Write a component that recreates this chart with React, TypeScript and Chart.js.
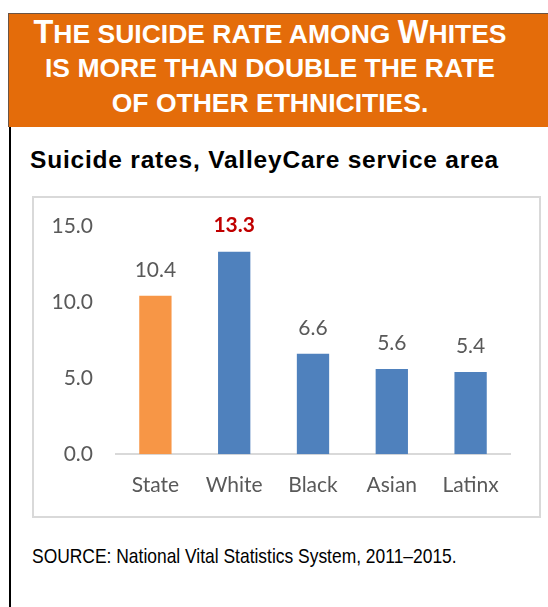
import React, { useEffect, useRef } from "react";
import { Chart, registerables } from "chart.js";

Chart.register(...registerables);

const categories = ["State", "White", "Black", "Asian", "Latinx"];
const rates = [10.4, 13.3, 6.6, 5.6, 5.4];
const barColors = ["#F79646", "#4F81BD", "#4F81BD", "#4F81BD", "#4F81BD"];
const yTicks = [0, 5, 10, 15];
const highlightIndex = 1;

const chartTitle = "Suicide rates, ValleyCare service area";
const sourceNote = "SOURCE: National Vital Statistics System, 2011\u20132015.";

// header lines: [text, isBigCapital]
const headerLines: [string, boolean][][] = [
  [["T", true], ["HE SUICIDE RATE AMONG ", false], ["W", true], ["HITES", false]],
  [["IS MORE THAN DOUBLE THE RATE", false]],
  [["OF OTHER ETHNICITIES.", false]],
];
const headerBaselineTops = [15.5, 49.5, 84.5];

const TICK_FONT = "Lato, 'Open Sans', sans-serif";

const valueLabels = {
  id: "valueLabels",
  afterDatasetsDraw(chart: any) {
    const ctx = chart.ctx;
    const meta = chart.getDatasetMeta(0);
    meta.data.forEach((bar: any, i: number) => {
      const v = rates[i];
      ctx.save();
      ctx.font = (i === highlightIndex ? "bold " : "") + "21px " + TICK_FONT;
      ctx.fillStyle = i === highlightIndex ? "#C00000" : "#595959";
      ctx.textAlign = "center";
      ctx.textBaseline = "middle";
      ctx.fillText(v.toFixed(1), bar.x, bar.y - 26);
      ctx.restore();
    });
  },
};

function BarChart() {
  const ref = useRef<HTMLCanvasElement | null>(null);
  useEffect(() => {
    if (!ref.current) return;
    const chart = new Chart(ref.current, {
      type: "bar",
      data: {
        labels: categories,
        datasets: [
          {
            data: rates,
            backgroundColor: barColors,
            borderWidth: 0,
            barPercentage: 0.41,
            categoryPercentage: 1,
          },
        ],
      },
      options: {
        animation: false,
        responsive: true,
        maintainAspectRatio: false,
        layout: { padding: { top: 27.8, right: 29, bottom: 0, left: 0 } },
        plugins: { legend: { display: false }, tooltip: { enabled: false }, title: { display: false } },
        scales: {
          x: {
            grid: { display: false, drawTicks: false },
            border: { display: true, color: "#D9D9D9", width: 2 },
            ticks: {
              font: { family: TICK_FONT, size: 21 },
              color: "#595959",
              padding: 18.6,
              maxRotation: 0,
              autoSkip: false,
            },
            afterFit: (s: any) => {
              s.height = 61.7;
              s.paddingLeft = 0;
              s.paddingRight = 0;
            },
          },
          y: {
            min: 0,
            max: 15,
            grid: { display: false, drawTicks: false },
            border: { display: false },
            ticks: {
              font: { family: TICK_FONT, size: 21 },
              color: "#595959",
              padding: 23,
              callback: (v: any) => Number(v).toFixed(1),
            },
            afterBuildTicks: (s: any) => {
              s.ticks = yTicks.map((v) => ({ value: v }));
            },
            afterFit: (s: any) => {
              s.width = 82;
              s.paddingTop = 0;
              s.paddingBottom = 0;
            },
          },
        },
      },
      plugins: [valueLabels],
    } as any);
    return () => chart.destroy();
  }, []);
  return <canvas ref={ref} />;
}

export default function App() {
  return (
    <div
      style={{
        position: "absolute",
        left: 0,
        top: 0,
        width: 548,
        height: 607,
        background: "#fff",
        overflow: "hidden",
      }}
    >
      {/* orange header */}
      <div
        style={{
          position: "absolute",
          left: 8,
          top: 13,
          width: 540,
          height: 114,
          background: "#E46C0A",
          borderTop: "1px solid #6b5444",
          borderLeft: "1px solid #6b5444",
          boxSizing: "border-box",
        }}
      />
      {headerLines.map((line, li) => (
        <div
          key={li}
          style={{
            position: "absolute",
            left: 9,
            width: 522,
            top: headerBaselineTops[li],
            textAlign: "center",
            color: "#fff",
            fontFamily: "'Liberation Sans', Arial, sans-serif",
            fontWeight: "bold",
            fontSize: 32.5,
            lineHeight: "32.5px",
            whiteSpace: "nowrap",
          }}
        >
          {line.map(([t, big], si) => (
            <span key={si} style={{ fontSize: big ? 32.5 : 26.5, lineHeight: 1 }}>
              {t}
            </span>
          ))}
        </div>
      ))}
      {/* left rule */}
      <div style={{ position: "absolute", left: 9, top: 127, width: 2, height: 480, background: "#000" }} />
      {/* title */}
      <div
        style={{
          position: "absolute",
          left: 30,
          top: 148,
          fontFamily: "'Liberation Sans', Arial, sans-serif",
          fontWeight: "bold",
          fontSize: 24.5,
          lineHeight: "24px",
          letterSpacing: "0.8px",
          color: "#000",
          whiteSpace: "nowrap",
        }}
      >
        {chartTitle}
      </div>
      {/* chart box */}
      <div
        style={{
          position: "absolute",
          left: 32,
          top: 196,
          width: 509,
          height: 322,
          border: "2px solid #D9D9D9",
          boxSizing: "border-box",
        }}
      />
      <div style={{ position: "absolute", left: 34, top: 198, width: 505, height: 318 }}>
        <BarChart />
      </div>
      {/* source */}
      <div
        style={{
          position: "absolute",
          left: 32,
          top: 545,
          fontFamily: "'Liberation Sans Narrow', 'Arial Narrow', 'Liberation Sans', Arial, sans-serif",
          fontSize: 21,
          lineHeight: "21px",
          color: "#000",
          whiteSpace: "nowrap",
          transform: "scaleX(0.83)",
          transformOrigin: "0 0",
        }}
      >
        {sourceNote}
      </div>
    </div>
  );
}
